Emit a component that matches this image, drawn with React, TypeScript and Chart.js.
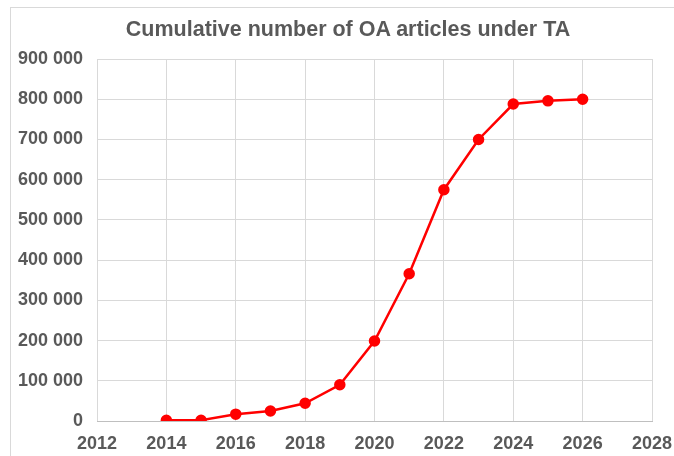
import React, { useEffect, useRef } from "react";
import { Chart, registerables } from "chart.js";

Chart.register(...registerables);

const years = [2014, 2015, 2016, 2017, 2018, 2019, 2020, 2021, 2022, 2023, 2024, 2025, 2026];
const cumulativeArticles = [2000, 2000, 17000, 25000, 44000, 90000, 199000, 366000, 575000, 700000, 788000, 796000, 800000];
const titleText = "Cumulative number of OA articles under TA";

const fmt = (v: number) => String(Math.round(v)).replace(/\B(?=(\d{3})+(?!\d))/g, " ");

export default function App() {
  const ref = useRef<HTMLCanvasElement | null>(null);

  useEffect(() => {
    document.body.style.margin = "0";
    const ctx = ref.current!.getContext("2d")!;
    const chart = new Chart(ctx, {
      type: "scatter",
      data: {
        datasets: [
          {
            data: years.map((y, i) => ({ x: y, y: cumulativeArticles[i] })),
            showLine: true,
            borderColor: "#ff0000",
            backgroundColor: "#ff0000",
            borderWidth: 2.5,
            pointRadius: 4.5,
            pointHoverRadius: 4.5,
            tension: 0,
          },
        ],
      },
      options: {
        animation: false,
        responsive: false,
        devicePixelRatio: 1,
        layout: { padding: { left: 0, right: 22, top: 59, bottom: 0 } },
        plugins: {
          legend: { display: false },
          tooltip: { enabled: false },
          title: { display: false },
        },
        scales: {
          x: {
            type: "linear",
            min: 2012,
            max: 2028,
            afterFit: (s: any) => { s.paddingLeft = 0; s.paddingRight = 0; s.height = 35; },
            ticks: {
              stepSize: 2,
              color: "#595959",
              font: { family: "Liberation Sans, Arial", size: 18, weight: "bold" },
              padding: 12,
              maxRotation: 0,
              callback: (v: any) => String(v),
            },
            grid: { color: "#d9d9d9", lineWidth: 1, drawTicks: false },
            border: { color: "#bfbfbf", width: 1 },
          },
          y: {
            min: 0,
            max: 900000,
            afterFit: (s: any) => { s.width = 97; s.paddingTop = 0; s.paddingBottom = 0; },
            ticks: {
              stepSize: 100000,
              color: "#595959",
              font: { family: "Liberation Sans, Arial", size: 18, weight: "bold" },
              padding: 14,
              callback: (v: any) => fmt(Number(v)),
            },
            grid: { color: "#d9d9d9", lineWidth: 1, drawTicks: false },
            border: { display: false },
          },
        },
      },
    });
    return () => chart.destroy();
  }, []);

  return (
    <div style={{ position: "relative", width: 674, height: 456, overflow: "hidden", background: "#fff" }}>
      <div
        style={{
          position: "absolute",
          left: 10,
          top: 7,
          width: 700,
          height: 500,
          border: "1px solid #d9d9d9",
          boxSizing: "border-box",
        }}
      />
      <canvas ref={ref} width={674} height={456} style={{ position: "absolute", left: 0, top: 0 }} />
      <div
        style={{
          position: "absolute",
          left: 0,
          top: 17,
          width: 696,
          textAlign: "center",
          fontFamily: "'Liberation Sans', Arial, sans-serif",
          fontWeight: "bold",
          fontSize: 21.5,
          lineHeight: "25px",
          color: "#595959",
          whiteSpace: "nowrap",
        }}
      >
        {titleText}
      </div>
    </div>
  );
}
